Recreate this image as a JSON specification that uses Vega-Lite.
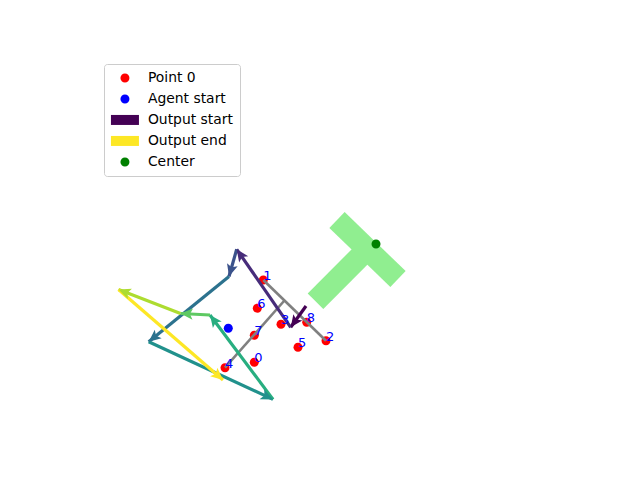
{
  "$schema": "https://vega.github.io/schema/vega-lite/v6.json",
  "width": 640,
  "height": 480,
  "padding": 0,
  "autosize": {"type": "none"},
  "background": "white",
  "config": {"view": {"stroke": null}},
  "datasets": {
    "tshape": [
      {"part": "bar", "x": 0.85, "y": 1.0, "x2": 3.9, "y2": -1.95},
      {"part": "stem", "x": 2.375, "y": -0.45, "x2": -0.225, "y2": -3.06}
    ],
    "gray": [
      {"x": -2.835, "y": -2.0, "x2": 0.3, "y2": -5.035},
      {"x": -1.8, "y": -3.05, "x2": -4.75, "y2": -6.385}
    ],
    "arrows": [
      {"step": "a0", "x": -0.7, "y": -3.3, "x2": -1.465, "y2": -4.365},
      {"step": "a1", "x": -1.465, "y": -4.365, "x2": -4.165, "y2": -0.465},
      {"step": "a2", "x": -4.165, "y": -0.465, "x2": -4.55, "y2": -1.825},
      {"step": "a3", "x": -4.55, "y": -1.825, "x2": -8.565, "y2": -5.085},
      {"step": "a4", "x": -8.565, "y": -5.085, "x2": -2.35, "y2": -7.97},
      {"step": "a5", "x": -2.35, "y": -7.97, "x2": -5.5, "y2": -3.75},
      {"step": "a6", "x": -5.5, "y": -3.75, "x2": -6.975, "y2": -3.675},
      {"step": "a7", "x": -6.975, "y": -3.675, "x2": -10.075, "y2": -2.475},
      {"step": "a8", "x": -10.075, "y": -2.475, "x2": -4.85, "y2": -7.0}
    ],
    "points": [
      {"series": "Point 0", "label": "0", "x": -3.285, "y": -6.115},
      {"series": "Point 0", "label": "1", "x": -2.835, "y": -2.0},
      {"series": "Point 0", "label": "2", "x": 0.3, "y": -5.035},
      {"series": "Point 0", "label": "3", "x": -1.95, "y": -4.215},
      {"series": "Point 0", "label": "4", "x": -4.75, "y": -6.385},
      {"series": "Point 0", "label": "5", "x": -1.1, "y": -5.365},
      {"series": "Point 0", "label": "6", "x": -3.135, "y": -3.415},
      {"series": "Point 0", "label": "7", "x": -3.285, "y": -4.765},
      {"series": "Point 0", "label": "8", "x": -0.665, "y": -4.115},
      {"series": "Agent start", "label": "", "x": -4.585, "y": -4.415},
      {"series": "Center", "label": "", "x": 2.8, "y": -0.2}
    ]
  },
  "encoding": {
    "x": {"field": "x", "type": "quantitative", "scale": {"domain": [-16, 16]}, "axis": null},
    "y": {"field": "y", "type": "quantitative", "scale": {"domain": [-12, 12]}, "axis": null}
  },
  "layer": [
    {
      "data": {"name": "tshape"},
      "mark": {"type": "rule", "color": "#90ee90", "strokeWidth": 22, "strokeCap": "butt"},
      "encoding": {"x2": {"field": "x2"}, "y2": {"field": "y2"}}
    },
    {
      "data": {"name": "points"},
      "mark": {"type": "point", "filled": true, "size": 100, "opacity": 1},
      "encoding": {
        "fill": {
          "field": "series", "type": "nominal",
          "scale": {"domain": ["Point 0", "Agent start", "Output start", "Output end", "Center"], "range": ["#ff0000", "#0000ff", "#440154", "#fde725", "#008000"]},
          "legend": {"orient": "none", "legendX": 104, "legendY": 64, "title": null, "padding": 7, "fillColor": "rgba(255,255,255,0.8)", "strokeColor": "#cccccc", "cornerRadius": 3, "labelFont": "DejaVu Sans", "labelFontSize": 13.9, "labelColor": "#000000", "symbolSize": 100, "symbolOffset": 7, "labelOffset": 16, "rowPadding": 6, "symbolStrokeWidth": 0}
        },
        "shape": {
          "field": "series", "type": "nominal",
          "scale": {"domain": ["Point 0", "Agent start", "Output start", "Output end", "Center"], "range": ["M0.9,0A0.9,0.9,0,1,1,-0.9,0A0.9,0.9,0,1,1,0.9,0Z", "M0.9,0A0.9,0.9,0,1,1,-0.9,0A0.9,0.9,0,1,1,0.9,0Z", "M-2.8,-1L2.8,-1L2.8,1L-2.8,1Z", "M-2.8,-1L2.8,-1L2.8,1L-2.8,1Z", "M0.9,0A0.9,0.9,0,1,1,-0.9,0A0.9,0.9,0,1,1,0.9,0Z"]},
          "legend": {"orient": "none", "legendX": 104, "legendY": 64, "title": null, "padding": 7, "fillColor": "rgba(255,255,255,0.8)", "strokeColor": "#cccccc", "cornerRadius": 3, "labelFont": "DejaVu Sans", "labelFontSize": 13.9, "labelColor": "#000000", "symbolSize": 100, "symbolOffset": 7, "labelOffset": 16, "rowPadding": 6, "symbolStrokeWidth": 0}
        }
      }
    },
    {
      "data": {"name": "gray"},
      "mark": {"type": "rule", "color": "#808080", "strokeWidth": 2.6},
      "encoding": {"x2": {"field": "x2"}, "y2": {"field": "y2"}}
    },
    {
      "data": {"name": "arrows"},
      "mark": {"type": "rule", "strokeWidth": 3.2},
      "encoding": {
        "x2": {"field": "x2"}, "y2": {"field": "y2"},
        "color": {"field": "step", "type": "nominal", "legend": null,
          "scale": {"domain": ["a0", "a1", "a2", "a3", "a4", "a5", "a6", "a7", "a8"], "range": ["#440154", "#472c7a", "#3b528b", "#2c728e", "#21918c", "#28ae80", "#5ec962", "#addc30", "#fde725"]}}
      }
    },
    {
      "data": {"name": "arrows"},
      "transform": [{"calculate": "atan2(datum.x2 - datum.x, datum.y2 - datum.y) * 180 / PI", "as": "ang"}],
      "mark": {"type": "point", "filled": true, "opacity": 1, "size": 150, "shape": "M0,0L0.9,2L0,1.55L-0.9,2Z"},
      "encoding": {
        "x": {"field": "x2", "type": "quantitative"},
        "y": {"field": "y2", "type": "quantitative"},
        "angle": {"field": "ang", "type": "quantitative", "scale": null},
        "color": {"field": "step", "type": "nominal", "legend": null,
          "scale": {"domain": ["a0", "a1", "a2", "a3", "a4", "a5", "a6", "a7", "a8"], "range": ["#440154", "#472c7a", "#3b528b", "#2c728e", "#21918c", "#28ae80", "#5ec962", "#addc30", "#fde725"]}}
      }
    },
    {
      "data": {"name": "points"},
      "mark": {"type": "text", "align": "left", "baseline": "alphabetic", "color": "#0000ff", "font": "DejaVu Sans", "fontSize": 13},
      "encoding": {"text": {"field": "label"}}
    }
  ]
}
